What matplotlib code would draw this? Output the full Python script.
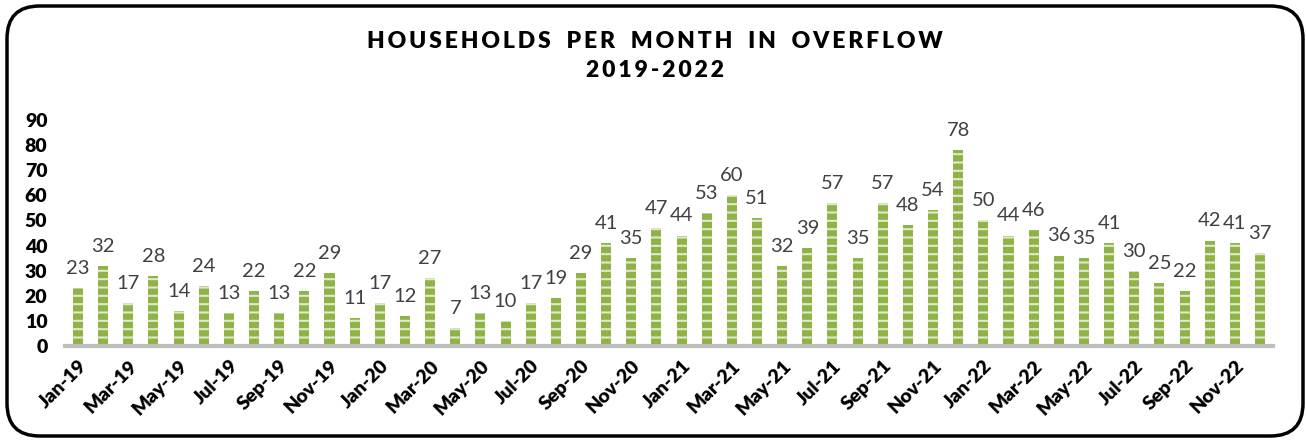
import matplotlib
matplotlib.use('Agg')
import matplotlib.pyplot as plt
from matplotlib.patches import FancyBboxPatch

plt.rcParams['font.family'] = ['Lato', 'DejaVu Sans']
plt.rcParams['hatch.linewidth'] = 1.5

# Datos
months = ['Jan', 'Feb', 'Mar', 'Apr', 'May', 'Jun',
          'Jul', 'Aug', 'Sep', 'Oct', 'Nov', 'Dec']
years = ['19', '20', '21', '22']
labels = [f'{m}-{y}' for y in years for m in months]
households = [23, 32, 17, 28, 14, 24, 13, 22, 13, 22, 29, 11,
              17, 12, 27, 7, 13, 10, 17, 19, 29, 41, 35, 47,
              44, 53, 60, 51, 32, 39, 57, 35, 57, 48, 54, 78,
              50, 44, 46, 36, 35, 41, 30, 25, 22, 42, 41, 37]
y_ticks = [0, 10, 20, 30, 40, 50, 60, 70, 80, 90]

fig = plt.figure(figsize=(13.06, 4.42), dpi=100)
ax = fig.add_axes([0.0501, 0.2172, 0.9243, 0.5113])

x = range(len(households))
bars = ax.bar(x, households, width=0.4, color='#8fb347',
              edgecolor='#dfe9cc', linewidth=0, hatch='--')

for bar, v in zip(bars, households):
    ax.annotate(str(v), (bar.get_x() + bar.get_width() / 2, v),
                xytext=(0, 8), textcoords='offset points',
                ha='center', va='bottom', fontsize=14.5, color='#404040')

ax.set_xlim(-0.5, len(households) - 0.5)
ax.set_ylim(0, 90)
ax.set_yticks(y_ticks)
ax.set_yticklabels([str(t) for t in y_ticks], fontsize=14, fontweight='heavy')
ax.set_xticks(list(x)[::2])
ax.set_xticklabels(labels[::2], rotation=45, ha='right', rotation_mode='anchor',
                   fontsize=14, fontweight='heavy')
ax.tick_params(axis='x', length=0, pad=8)
ax.tick_params(axis='y', length=0, pad=13)

for side in ['top', 'right', 'left']:
    ax.spines[side].set_visible(False)
ax.spines['bottom'].set_color('#bfbfbf')
ax.spines['bottom'].set_linewidth(3)

# Titulo con espaciado entre letras
def spaced(s):
    return '   '.join('\u2009'.join(w) for w in s.split(' '))

fig.text(0.5015, 0.907, spaced('HOUSEHOLDS PER MONTH IN OVERFLOW'),
         ha='center', va='center', fontsize=16.5, fontweight='heavy')
fig.text(0.5015, 0.84, spaced('2019-2022'),
         ha='center', va='center', fontsize=16.5, fontweight='heavy')

# Marco redondeado
frame = FancyBboxPatch((7 / 1306, 6 / 442), 1296 / 1306, 430 / 442,
                       boxstyle='round,pad=0,rounding_size=0.025',
                       mutation_aspect=1306 / 442,
                       transform=fig.transFigure, facecolor='none',
                       edgecolor='black', linewidth=2.5, clip_on=False)
fig.patches.append(frame)

plt.savefig('out.png', dpi=100, facecolor='white')
plt.close()
